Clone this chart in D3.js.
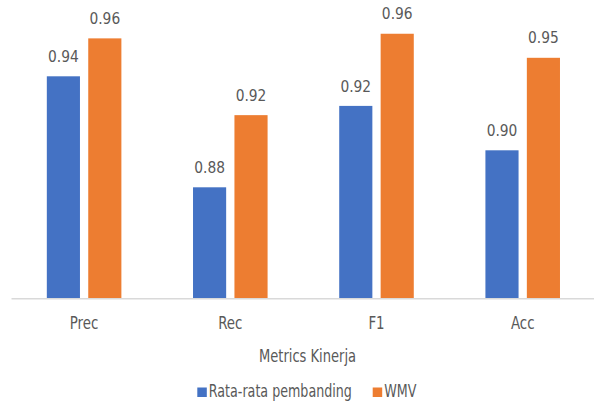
<!DOCTYPE html>
<html>
<head>
<meta charset="utf-8">
<script src="https://cdn.jsdelivr.net/npm/d3@7"></script>
<style>
  html, body { margin: 0; padding: 0; background: #fff; }
  svg { display: block; }
  text { font-family: "DejaVu Sans Condensed", "DejaVu Sans", sans-serif; fill: #595959; }
</style>
</head>
<body>
<svg id="chart" width="594" height="403"></svg>
<script>
const categories = ["Prec", "Rec", "F1", "Acc"];
const seriesNames = ["Rata-rata pembanding", "WMV"];
const baselineValues = [0.940, 0.880, 0.924, 0.900];
const wmvValues = [0.9605, 0.919, 0.963, 0.950];
const seriesColors = ["#4472C4", "#ED7D31"];
const axisTitle = "Metrics Kinerja";

const svg = d3.select("#chart");
const left = 11, right = 595.8, baseY = 298.3, topY = 20.8;
const sxTick = 0.875, sxText = 0.83, sxNum = 0.93;

const x0 = d3.scaleBand().domain(categories).range([left, right]).padding(0);
const bw = x0.bandwidth();
const x1 = d3.scaleBand().domain(seriesNames).range([bw * 0.245, bw * 0.755]).paddingInner(0.2).paddingOuter(0);
const y = d3.scaleLinear().domain([0.82, 0.97]).range([baseY, topY]);
const color = d3.scaleOrdinal().domain(seriesNames).range(seriesColors);

const rows = categories.map((c, i) => ({
  cat: c,
  vals: [
    { s: seriesNames[0], v: baselineValues[i] },
    { s: seriesNames[1], v: wmvValues[i] }
  ]
}));

const g = svg.append("g");
const groups = g.selectAll("g.grp").data(rows).join("g")
  .attr("class", "grp")
  .attr("transform", d => `translate(${x0(d.cat)},0)`);

groups.selectAll("rect").data(d => d.vals).join("rect")
  .attr("x", d => x1(d.s))
  .attr("width", x1.bandwidth())
  .attr("y", d => y(d.v))
  .attr("height", d => baseY - y(d.v))
  .attr("fill", d => color(d.s));

groups.selectAll("text.lbl").data(d => d.vals).join("text")
  .attr("class", "lbl")
  .attr("transform", d => `translate(${x1(d.s) + x1.bandwidth() / 2},${y(d.v) - 14.4}) scale(${sxNum},1)`)
  .attr("text-anchor", "middle")
  .attr("font-size", 16.5)
  .text(d => d3.format(".2f")(d.v));

// x axis
const xAxis = d3.axisBottom(x0).tickSize(0).tickSizeOuter(0).tickPadding(0);
const ax = svg.append("g").attr("transform", `translate(0,${baseY})`).call(xAxis);
ax.select(".domain").attr("stroke", "#d9d9d9").attr("stroke-width", 1.5);
ax.selectAll(".tick text")
  .attr("y", null)
  .attr("dy", null)
  .attr("transform", `translate(0,31) scale(${sxTick},1)`)
  .attr("font-size", 17)
  .attr("fill", "#595959")
  .style("font-family", "\"DejaVu Sans Condensed\", \"DejaVu Sans\", sans-serif");

// axis title
svg.append("text")
  .attr("transform", `translate(307.5,361.7) scale(${sxText},1)`)
  .attr("text-anchor", "middle")
  .attr("font-size", 17.5)
  .text(axisTitle);

// legend
const legendItems = [
  { s: seriesNames[0], x: 197.3 },
  { s: seriesNames[1], x: 372.7 }
];
const lg = svg.append("g");
lg.selectAll("rect").data(legendItems).join("rect")
  .attr("x", d => d.x)
  .attr("y", 387.5)
  .attr("width", 9.5)
  .attr("height", 9.5)
  .attr("fill", d => color(d.s));
lg.selectAll("text").data(legendItems).join("text")
  .attr("transform", d => `translate(${d.x + 11.5},397.3) scale(${sxText},1)`)
  .attr("font-size", 17)
  .text(d => d.s);
</script>
</body>
</html>
